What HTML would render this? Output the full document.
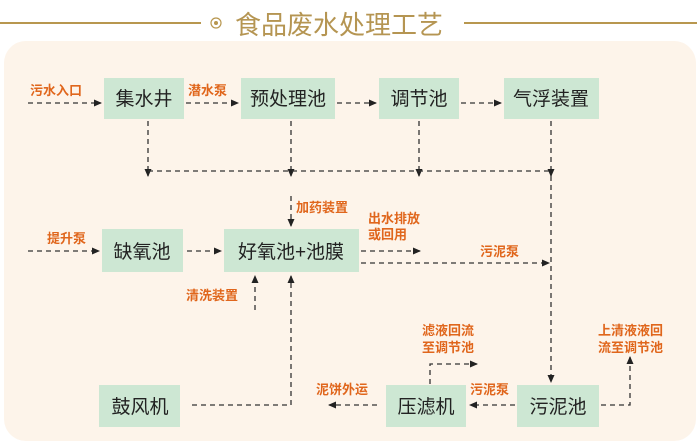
<!DOCTYPE html>
<html><head><meta charset="utf-8"><style>
html,body{margin:0;width:697px;height:446px;background:#fff;overflow:hidden;font-family:"Liberation Sans","Noto Sans CJK SC",sans-serif}
svg{display:block}
</style></head><body>
<svg width="697" height="446" xmlns="http://www.w3.org/2000/svg">
<defs><marker id="a" markerWidth="8" markerHeight="8" refX="7" refY="4" orient="auto" markerUnits="userSpaceOnUse"><path d="M0,0.5 L8,4 L0,7.5z" fill="#222"/></marker></defs>
<rect x="4" y="41" width="692" height="400" rx="22" fill="#fdf4ea"/>
<line x1="0" y1="23" x2="201" y2="23" stroke="#b8974f" stroke-width="2"/>
<line x1="464" y1="23" x2="697" y2="23" stroke="#b8974f" stroke-width="2"/>
<circle cx="216" cy="23" r="5" fill="none" stroke="#b8974f" stroke-width="1.2"/><circle cx="216" cy="23" r="2" fill="#b8974f"/>
<text x="235" y="34" font-size="26" fill="#b59552">食品废水处理工艺</text>
<g fill="#cde7d3">
<rect x="104" y="78" width="80" height="41"/><rect x="241" y="78" width="94" height="41"/><rect x="379" y="78" width="80" height="41"/><rect x="504" y="78" width="95" height="41"/>
<rect x="102" y="229" width="81" height="43"/><rect x="224" y="229" width="135" height="43"/>
<rect x="99" y="385" width="81" height="42"/><rect x="386" y="385" width="80" height="42"/><rect x="517" y="385" width="82" height="42"/>
</g>
<g font-size="19" fill="#222" text-anchor="middle">
<text x="144" y="105">集水井</text><text x="288" y="105">预处理池</text><text x="419" y="105">调节池</text><text x="551" y="105">气浮装置</text>
<text x="142" y="258">缺氧池</text><text x="291" y="258">好氧池+池膜</text>
<text x="140" y="413">鼓风机</text><text x="426" y="413">压滤机</text><text x="558" y="413">污泥池</text>
</g>
<g font-size="13" fill="#e0661c" font-weight="bold">
<text x="30" y="95">污水入口</text><text x="188" y="95">潜水泵</text>
<text x="296" y="212">加药装置</text><text x="47" y="243">提升泵</text>
<text x="368" y="223">出水排放</text><text x="368" y="239">或回用</text>
<text x="480" y="256">污泥泵</text><text x="186" y="300">清洗装置</text>
<text x="422" y="335">滤液回流</text><text x="422" y="352">至调节池</text>
<text x="598" y="335">上清液液回</text><text x="598" y="352">流至调节池</text>
<text x="316" y="394">泥饼外运</text><text x="470" y="394">污泥泵</text>
</g>
<g stroke="#333" stroke-width="1.3" stroke-dasharray="5,4" fill="none">
<line x1="28" y1="103" x2="101" y2="103" marker-end="url(#a)"/>
<line x1="186" y1="103" x2="238" y2="103" marker-end="url(#a)"/>
<line x1="337" y1="103" x2="376" y2="103" marker-end="url(#a)"/>
<line x1="461" y1="103" x2="501" y2="103" marker-end="url(#a)"/>
<line x1="148" y1="121" x2="148" y2="176" marker-end="url(#a)"/>
<line x1="291" y1="121" x2="291" y2="176" marker-end="url(#a)"/>
<line x1="419" y1="121" x2="419" y2="176" marker-end="url(#a)"/>
<line x1="551" y1="121" x2="551" y2="176" marker-end="url(#a)"/>
<line x1="148" y1="171" x2="551" y2="171"/>
<line x1="551" y1="176" x2="551" y2="382" marker-end="url(#a)"/>
<line x1="291" y1="196" x2="291" y2="226" marker-end="url(#a)"/>
<line x1="28" y1="251" x2="99" y2="251" marker-end="url(#a)"/>
<line x1="187" y1="251" x2="221" y2="251" marker-end="url(#a)"/>
<line x1="361" y1="251" x2="420" y2="251" marker-end="url(#a)"/>
<line x1="361" y1="263" x2="549" y2="263" marker-end="url(#a)"/>
<line x1="255" y1="310" x2="255" y2="276" marker-end="url(#a)"/>
<polyline points="192,405 291,405 291,276" marker-end="url(#a)"/>
<line x1="515" y1="405" x2="470" y2="405" marker-end="url(#a)"/>
<line x1="377" y1="405" x2="329" y2="405" marker-end="url(#a)"/>
<polyline points="430,384 430,364 477,364" marker-end="url(#a)"/>
<polyline points="601,405 630,405 630,357" marker-end="url(#a)"/>
</g>
</svg>
</body></html>
